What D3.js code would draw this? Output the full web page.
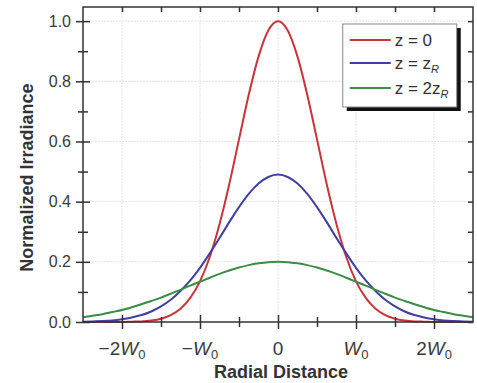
<!DOCTYPE html>
<html>
<head>
<meta charset="utf-8">
<script src="https://cdn.jsdelivr.net/npm/d3@7"></script>
<style>
  body { margin: 0; background: #fff; }
  svg { display: block; font-family: "Liberation Sans", Arial, sans-serif; }
</style>
</head>
<body>
<div id="chart"></div>
<script>
// Radial positions in units of W0
const radius = [-2.5, -2.375, -2.25, -2.125, -2, -1.875, -1.75, -1.625, -1.5, -1.375, -1.25, -1.125, -1, -0.875, -0.75, -0.625, -0.5, -0.375, -0.25, -0.125,
  0, 0.125, 0.25, 0.375, 0.5, 0.625, 0.75, 0.875, 1, 1.125, 1.25, 1.375, 1.5, 1.625, 1.75, 1.875, 2, 2.125, 2.25, 2.375, 2.5];

// Irradiance
const irrZ0 = [0, 0, 0, 0, 0, 0.001, 0.002, 0.005, 0.011, 0.023, 0.044, 0.080, 0.135, 0.216, 0.325, 0.458, 0.607, 0.755, 0.882, 0.969,
  1.0, 0.969, 0.882, 0.755, 0.607, 0.458, 0.325, 0.216, 0.135, 0.080, 0.044, 0.023, 0.011, 0.005, 0.002, 0.001, 0, 0, 0, 0, 0];
const irrZR = [0.001, 0.002, 0.003, 0.005, 0.009, 0.015, 0.023, 0.035, 0.052, 0.074, 0.103, 0.138, 0.180, 0.228, 0.279, 0.332, 0.382, 0.426, 0.460, 0.482,
  0.490, 0.482, 0.460, 0.426, 0.382, 0.332, 0.279, 0.228, 0.180, 0.138, 0.103, 0.074, 0.052, 0.035, 0.023, 0.015, 0.009, 0.005, 0.003, 0.002, 0.001];
const irr2ZR = [0.016, 0.021, 0.026, 0.033, 0.040, 0.049, 0.059, 0.070, 0.081, 0.094, 0.107, 0.121, 0.134, 0.147, 0.160, 0.171, 0.181, 0.189, 0.195, 0.199,
  0.200, 0.199, 0.195, 0.189, 0.181, 0.171, 0.160, 0.147, 0.134, 0.121, 0.107, 0.094, 0.081, 0.070, 0.059, 0.049, 0.040, 0.033, 0.026, 0.021, 0.016];

const seriesNames = ["z0", "zR", "2zR"];
const seriesColors = ["#c8343c", "#3f40a2", "#3b8c47"];

const xMajor = [-2, -1, 0, 1, 2];
const xMinor = [-1.5, -0.5, 0.5, 1.5];
const xLabels = [["\u22122", "W", "0"], ["\u2212", "W", "0"], ["0", "", ""], ["", "W", "0"], ["2", "W", "0"]];
const yMajor = [0, 0.2, 0.4, 0.6, 0.8, 1.0];
const yMinor = [0.1, 0.3, 0.5, 0.7, 0.9];

const W = 477, H = 383;
const margin = { top: 7, right: 4, bottom: 61, left: 83 };
const width = W - margin.left - margin.right;
const height = H - margin.top - margin.bottom;

const svg = d3.select("#chart").append("svg")
  .attr("width", W)
  .attr("height", H);

const g = svg.append("g")
  .attr("transform", "translate(" + margin.left + "," + margin.top + ")");

const x = d3.scaleLinear().domain([-2.5, 2.5]).range([0, width]);
const y = d3.scaleLinear().domain([0, 1.047]).range([height, 0]);

// grid
g.append("g").selectAll("line")
  .data(xMajor)
  .enter().append("line")
  .attr("x1", d => x(d)).attr("x2", d => x(d))
  .attr("y1", 0).attr("y2", height)
  .attr("stroke", "#e2e2e2").attr("stroke-dasharray", "2,1");
g.append("g").selectAll("line")
  .data(yMajor.slice(1))
  .enter().append("line")
  .attr("x1", 0).attr("x2", width)
  .attr("y1", d => y(d)).attr("y2", d => y(d))
  .attr("stroke", "#e2e2e2").attr("stroke-dasharray", "2,1");

// curves
const allSeries = [irrZ0, irrZR, irr2ZR];
const line = d3.line()
  .x((d, i) => x(radius[i]))
  .y(d => y(d))
  .curve(d3.curveMonotoneX);

g.append("g").selectAll("path")
  .data(allSeries)
  .enter().append("path")
  .attr("d", d => line(d))
  .attr("fill", "none")
  .attr("stroke", (d, i) => seriesColors[i])
  .attr("stroke-width", 2);

// frame
g.append("rect")
  .attr("width", width).attr("height", height)
  .attr("fill", "none").attr("stroke", "#333").attr("stroke-width", 1.5);

// axes
const ax = g.append("g").attr("transform", "translate(0," + height + ")")
  .call(d3.axisBottom(x).tickValues(xMajor).tickFormat("").tickSize(0));
ax.select(".domain").remove();
ax.selectAll(".tick line").attr("y1", -7).attr("y2", 7).attr("stroke", "#333").attr("stroke-width", 1.5);
ax.selectAll(".tick text").remove();

const axMinor = g.append("g").attr("transform", "translate(0," + height + ")")
  .call(d3.axisBottom(x).tickValues(xMinor).tickFormat("").tickSize(0));
axMinor.select(".domain").remove();
axMinor.selectAll(".tick line").attr("y1", -5).attr("y2", 5).attr("stroke", "#333").attr("stroke-width", 1.5);

const ay = g.append("g")
  .call(d3.axisLeft(y).tickValues(yMajor).tickFormat(d3.format(".1f")).tickSize(0).tickPadding(12));
ay.select(".domain").remove();
ay.selectAll(".tick line").attr("x1", -7).attr("x2", 7).attr("stroke", "#333").attr("stroke-width", 1.5);
ay.selectAll(".tick text").attr("fill", "#3a3a3a").style("font-size", "16px").attr("font-family", null);

const ayMinor = g.append("g")
  .call(d3.axisLeft(y).tickValues(yMinor).tickFormat("").tickSize(0));
ayMinor.select(".domain").remove();
ayMinor.selectAll(".tick line").attr("x1", -5).attr("x2", 5).attr("stroke", "#333").attr("stroke-width", 1.5);

// top & right inward ticks
const axTop = g.append("g")
  .call(d3.axisTop(x).tickValues(xMajor.concat(xMinor)).tickFormat("").tickSizeInner(-5).tickSizeOuter(0));
axTop.select(".domain").remove();
axTop.selectAll(".tick line").attr("stroke", "#333").attr("stroke-width", 1.5);

const ayRight = g.append("g").attr("transform", "translate(" + width + ",0)")
  .call(d3.axisRight(y).tickValues(yMajor.concat(yMinor)).tickFormat("").tickSizeInner(-5).tickSizeOuter(0));
ayRight.select(".domain").remove();
ayRight.selectAll(".tick line").attr("stroke", "#333").attr("stroke-width", 1.5);

// x tick labels with italic W and subscript 0
const xl = g.append("g").selectAll("text")
  .data(xMajor)
  .enter().append("text")
  .attr("x", d => x(d))
  .attr("y", height + 33)
  .attr("text-anchor", "middle")
  .attr("fill", "#3a3a3a")
  .style("font-size", "19px");
xl.each(function(d, i) {
  const t = d3.select(this);
  const parts = xLabels[i];
  if (parts[0]) t.append("tspan").text(parts[0]);
  if (parts[1]) t.append("tspan").style("font-style", "italic").text(parts[1]);
  if (parts[2]) t.append("tspan").attr("dy", 4).style("font-size", "13px").text(parts[2]);
});

// axis titles
g.append("text")
  .attr("x", width / 2 + 3)
  .attr("y", height + 56)
  .attr("text-anchor", "middle")
  .style("font-size", "18px")
  .style("font-weight", "bold")
  .attr("fill", "#333")
  .text("Radial Distance");

g.append("text")
  .attr("transform", "rotate(-90)")
  .attr("x", -(y(0.48)))
  .attr("y", -50)
  .attr("text-anchor", "middle")
  .style("font-size", "18px")
  .style("font-weight", "bold")
  .attr("fill", "#333")
  .text("Normalized Irradiance");

// legend
const lx = x(0.83), ly = 17, lw = 114, lh = 83;
const legend = g.append("g").attr("transform", "translate(" + lx + "," + ly + ")");
legend.append("rect").attr("x", 4).attr("y", 4).attr("width", lw).attr("height", lh).attr("fill", "#111");
legend.append("rect").attr("width", lw).attr("height", lh).attr("fill", "#fff").attr("stroke", "#888").attr("stroke-width", 1);

const rowY = [16, 39, 64];
seriesNames.forEach((name, i) => {
  legend.append("line")
    .attr("x1", 7).attr("x2", 48)
    .attr("y1", rowY[i]).attr("y2", rowY[i])
    .attr("stroke", seriesColors[i]).attr("stroke-width", 2);
  const t = legend.append("text")
    .attr("x", 52).attr("y", rowY[i] + 6)
    .attr("fill", "#333")
    .style("font-size", "17px");
  if (name === "z0") {
    t.text("z = 0");
  } else {
    t.append("tspan").text(name === "zR" ? "z = z" : "z = 2z");
    t.append("tspan").attr("dy", 4).style("font-size", "11px").style("font-style", "italic").text("R");
  }
});
</script>
</body>
</html>
